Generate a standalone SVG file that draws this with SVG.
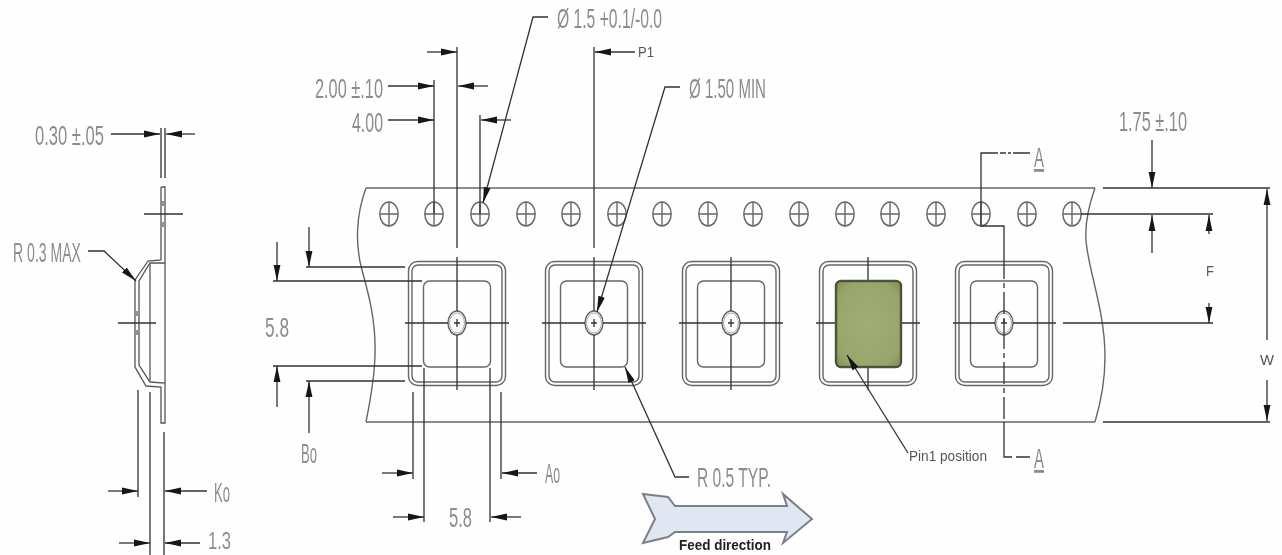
<svg xmlns="http://www.w3.org/2000/svg" width="1282" height="555" viewBox="0 0 1282 555">
<style>
.cad{font-family:"Liberation Sans",Arial,sans-serif;font-size:28px;fill:#8c8c8c}
.lbl{font-family:"Liberation Sans",Arial,sans-serif;font-size:14px;fill:#555}
.d{fill:none;stroke:#333;stroke-width:1.3}
.m{fill:none;stroke:#555;stroke-width:1.3}
.g{fill:none;stroke:#666;stroke-width:1.4}
.a{fill:none;stroke:#333;stroke-width:1.3;marker-end:url(#ah)}
.c{fill:none;stroke:#333;stroke-width:1.3}
</style>
<defs>
<filter id="soft" x="0" y="0" width="100%" height="100%"><feGaussianBlur stdDeviation="0.4"/></filter>
<marker id="ah" markerUnits="userSpaceOnUse" markerWidth="18" markerHeight="10" refX="16" refY="5" orient="auto"><path d="M0 1.6L16 5L0 8.4Z" fill="#151515"/></marker>
<radialGradient id="chipfill" cx="0.5" cy="0.5" r="0.75"><stop offset="0" stop-color="#a2ad74"/><stop offset="0.7" stop-color="#98a56b"/><stop offset="1" stop-color="#7c8a55"/></radialGradient>
<g id="hole"><ellipse class="g" rx="9.2" ry="12"/><path class="g" d="M-9 0H9M0-12V12"/></g>
<g id="frame"><rect class="g" x="-48.5" y="-61.5" width="97" height="124" rx="9"/><rect class="g" x="-45" y="-58" width="90" height="117" rx="6"/></g>
<g id="bore"><rect class="g" x="-33.5" y="-42" width="67" height="86" rx="6"/><ellipse class="g" rx="9" ry="12"/><ellipse stroke="#aaa" stroke-width="1" fill="none" rx="7.4" ry="10"/><path class="c" d="M-52 0H-9M9 0H52M0-66V-12M0 12V67M-3 0H3M0-4V4"/></g>
</defs>
<rect width="1282" height="555" fill="#fefefe"/>
<g filter="url(#soft)">
<g id="tape">
<path class="g" d="M366 188H1095M366 422H1095"/>
<path class="g" d="M366 188C356 215 355 245 362 270C368 292 376 320 375 353C375 375 370 402 366 422"/>
<path class="g" d="M1095 188C1089 205 1085 225 1086 240C1088 270 1105 310 1105 357C1105 385 1100 405 1095 422"/>
</g>
<g id="sprocket-holes">
<use href="#hole" x="389" y="214"/><use href="#hole" x="434" y="214"/><use href="#hole" x="480" y="214"/><use href="#hole" x="526" y="214"/><use href="#hole" x="571" y="214"/><use href="#hole" x="617" y="214"/><use href="#hole" x="662" y="214"/><use href="#hole" x="708" y="214"/><use href="#hole" x="753" y="214"/><use href="#hole" x="799" y="214"/><use href="#hole" x="845" y="214"/><use href="#hole" x="890" y="214"/><use href="#hole" x="936" y="214"/><use href="#hole" x="981" y="214"/><use href="#hole" x="1027" y="214"/><use href="#hole" x="1072" y="214"/>
</g>
<g id="pocket-1"><use href="#frame" x="457" y="323"/><use href="#bore" x="457" y="323"/></g>
<g id="pocket-2"><use href="#frame" x="594" y="323"/><use href="#bore" x="594" y="323"/></g>
<g id="pocket-3"><use href="#frame" x="731" y="323"/><use href="#bore" x="731" y="323"/></g>
<g id="pocket-4"><use href="#frame" x="868" y="323"/><path class="c" d="M816 323H836M901 323H920M868 257V281M868 367V390"/><rect x="836" y="281" width="65" height="86" rx="5" fill="url(#chipfill)" stroke="#4c5638" stroke-width="2.4"/></g>
<g id="pocket-5"><use href="#frame" x="1004" y="323"/><rect class="g" x="970.5" y="281" width="67" height="86" rx="6"/><ellipse class="g" cx="1004" cy="323" rx="9" ry="12"/><ellipse stroke="#aaa" stroke-width="1" fill="none" cx="1004" cy="323" rx="7.4" ry="10"/><path class="c" d="M953 323H995M1013 323H1056M1001 323H1007M1004 319V327"/></g>
<g id="section-profile">
<path class="m" d="M161 187V260L148 261L135 280V367L146 386L161 387V423H165V383L150 382L139 365V281L150 263L165 263V187H161"/>
<path class="g" d="M150 263V382M165 263V383"/>
<path class="c" d="M144 214H183M118 323H156"/>
<path class="g" d="M163 201V206M163 222V227M137 311V316M137 330V335"/>
</g>
<g id="feed-arrow"><path d="M643 494L668 497L675 506H787L783 494L812 519L783 543L787 532H675L668 537L643 543L655 519Z" fill="#e0e7f3" stroke="#7b7f86" stroke-width="2"/></g>
<g id="connectors">
<path class="d" d="M161 128V178M165 128V178"/>
<path class="a" d="M111 134H160"/><path class="a" d="M195 134H166"/>
<path class="a" d="M88 251H104L136 281"/>
<path class="d" d="M138 390V497M150 392V555M164 432V555"/>
<path class="a" d="M108 491H138"/><path class="a" d="M207 491H165"/><path class="a" d="M119 543H150"/><path class="a" d="M200 543H165"/>
<path class="d" d="M457 47V248M594 47V248M434 80V214M480 115V214"/>
<path class="a" d="M427 52H457"/><path class="a" d="M635 52H595"/>
<path class="a" d="M388 86H434"/><path class="a" d="M488 86H458"/>
<path class="a" d="M388 120H434"/><path class="a" d="M511 120H481"/>
<path class="a" d="M548 17H533L483 203"/>
<path class="a" d="M680 87H665L597 312"/>
<path class="d" d="M273 281H422M273 366H422M306 267H405M306 381H405"/>
<path class="a" d="M277 242V281"/><path class="a" d="M277 407V366"/><path class="a" d="M309 227V267"/><path class="a" d="M309 433V381"/>
<path class="d" d="M413 392V479M501 392V479M424 368V522M490 368V522"/>
<path class="a" d="M382 473H413"/><path class="a" d="M537 473H502"/><path class="a" d="M393 517H424"/><path class="a" d="M521 517H491"/>
<path class="a" d="M689 477H675L625 367"/>
<path class="a" d="M908 453L847 355"/>
<path class="d" d="M1030 153H1013M1011 153H1008M1006 153H1000M998 153H981V188"/>
<path class="d" d="M981 188V226H1004V257"/>
<path class="d" d="M1004 257V422" stroke-dasharray="22 4 5 4"/>
<path class="d" d="M1004 422V457H1012M1016 457H1030"/>
<path class="d" d="M1103 188H1270M1081 214H1213M1063 323H1213M1103 422H1270"/>
<path class="a" d="M1152 140V188"/><path class="a" d="M1152 253V215"/>
<path class="a" d="M1209 234V215"/><path class="a" d="M1209 303V323"/>
<path class="a" d="M1267 340V189"/><path class="a" d="M1267 380V421"/>
</g>
<g id="labels">
<text class="cad" x="35" y="145" textLength="69" lengthAdjust="spacingAndGlyphs">0.30 ±.05</text>
<text class="cad" x="13" y="262" textLength="68" lengthAdjust="spacingAndGlyphs">R 0.3 MAX</text>
<text class="cad" x="214" y="502" textLength="16" lengthAdjust="spacingAndGlyphs">Ko</text>
<text class="cad" x="208" y="549" textLength="23" lengthAdjust="spacingAndGlyphs" style="font-size:24px">1.3</text>
<text class="cad" x="265" y="337" textLength="24" lengthAdjust="spacingAndGlyphs">5.8</text>
<text class="cad" x="301" y="463" textLength="16" lengthAdjust="spacingAndGlyphs">Bo</text>
<text class="cad" x="545" y="483" textLength="15" lengthAdjust="spacingAndGlyphs">Ao</text>
<text class="cad" x="449" y="527" textLength="23" lengthAdjust="spacingAndGlyphs">5.8</text>
<text class="cad" x="315" y="98" textLength="68" lengthAdjust="spacingAndGlyphs">2.00 ±.10</text>
<text class="cad" x="352" y="132" textLength="31" lengthAdjust="spacingAndGlyphs">4.00</text>
<text class="cad" x="557" y="28" textLength="105" lengthAdjust="spacingAndGlyphs">Ø 1.5 +0.1/-0.0</text>
<text class="lbl" x="638" y="57" textLength="16" lengthAdjust="spacingAndGlyphs">P1</text>
<text class="cad" x="689" y="98" textLength="77" lengthAdjust="spacingAndGlyphs">Ø 1.50 MIN</text>
<text class="cad" x="697" y="487" textLength="74" lengthAdjust="spacingAndGlyphs">R 0.5 TYP.</text>
<text class="lbl" x="909" y="461" textLength="78" lengthAdjust="spacingAndGlyphs">Pin1 position</text>
<text class="lbl" x="679" y="550" textLength="92" lengthAdjust="spacingAndGlyphs" style="font-weight:bold;fill:#222">Feed direction</text>
<text class="cad" x="1034" y="167" textLength="10" lengthAdjust="spacingAndGlyphs" style="text-decoration:underline">A</text>
<text class="cad" x="1034" y="468" textLength="10" lengthAdjust="spacingAndGlyphs" style="text-decoration:underline">A</text>
<text class="cad" x="1119" y="131" textLength="68" lengthAdjust="spacingAndGlyphs">1.75 ±.10</text>
<text class="lbl" x="1206" y="276" textLength="8" lengthAdjust="spacingAndGlyphs">F</text>
<text class="lbl" x="1260" y="365" textLength="14" lengthAdjust="spacingAndGlyphs">W</text>
</g>
</g>
</svg>
